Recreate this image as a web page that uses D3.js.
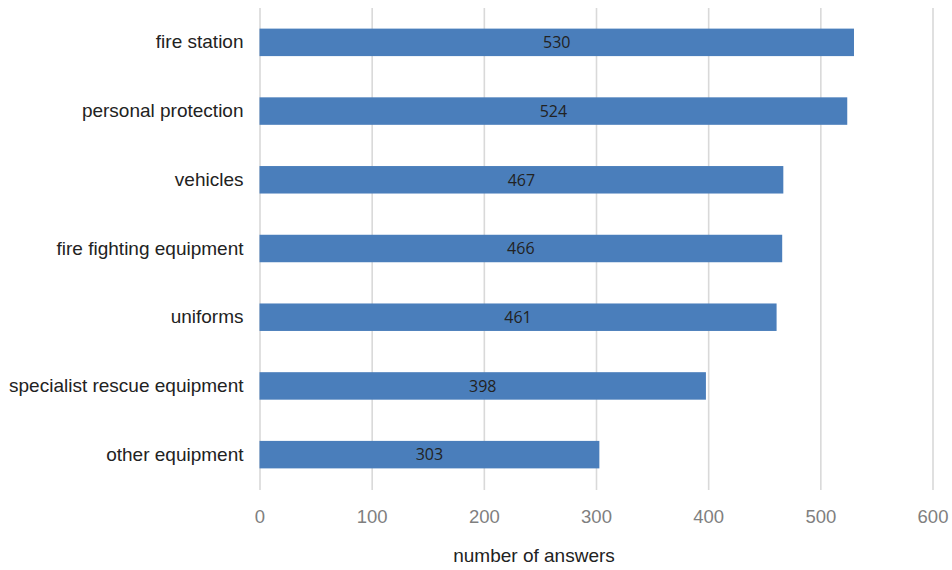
<!DOCTYPE html>
<html>
<head>
<meta charset="utf-8">
<script src="https://cdn.jsdelivr.net/npm/d3@7"></script>
<style>
  html, body { margin: 0; padding: 0; background: #fff; }
  svg { display: block; }
</style>
</head>
<body>
<svg id="chart" width="952" height="570"></svg>
<script>
// Equipment categories and how many answers named each one
const categories = [
  "fire station",
  "personal protection",
  "vehicles",
  "fire fighting equipment",
  "uniforms",
  "specialist rescue equipment",
  "other equipment"
];
const answers = [530, 524, 467, 466, 461, 398, 303];
const xTicks = [0, 100, 200, 300, 400, 500, 600];
const xTitle = "number of answers";

const rows = categories.map((c, i) => ({ category: c, value: answers[i] }));

const svg = d3.select("#chart");
const margin = { left: 259.5, right: 20, top: 8, bottom: 81 };
const width = 952, height = 570;

const x = d3.scaleLinear()
  .domain([0, 600])
  .range([margin.left, 932.5]);

const y = d3.scaleBand()
  .domain(categories)
  .range([margin.top, height - margin.bottom])
  .paddingInner(0.6)
  .paddingOuter(0.3);

// vertical gridlines
const grid = d3.axisBottom(x)
  .tickValues(xTicks)
  .tickSize(-(height - margin.bottom - margin.top + 1))
  .tickFormat("");
svg.append("g")
  .attr("transform", `translate(0,${height - margin.bottom + 1})`)
  .call(grid)
  .call(g => g.select(".domain").remove())
  .call(g => g.selectAll("line").attr("stroke", "#d9d9d9").attr("stroke-width", 1.6));

// bottom tick labels
const xAxis = d3.axisBottom(x).tickValues(xTicks).tickSize(0).tickPadding(0);
svg.append("g")
  .attr("transform", `translate(0,523)`)
  .call(xAxis)
  .call(g => g.select(".domain").remove())
  .call(g => g.selectAll("text")
    .attr("fill", "#7f7f7f")
    .attr("font-family", "'Liberation Sans', Arial, sans-serif")
    .attr("font-size", 18.5)
    .attr("y", 0)
    .attr("dy", "0"));

// category labels
const yAxis = d3.axisLeft(y).tickSize(0).tickPadding(16);
svg.append("g")
  .attr("transform", `translate(${margin.left},0)`)
  .call(yAxis)
  .call(g => g.select(".domain").remove())
  .call(g => g.selectAll("text")
    .attr("fill", "#222")
    .attr("font-family", "'Liberation Sans', Arial, sans-serif")
    .attr("font-size", 19));

// bars
svg.append("g")
  .selectAll("rect")
  .data(rows)
  .join("rect")
  .attr("x", x(0))
  .attr("y", d => y(d.category))
  .attr("width", d => x(d.value) - x(0))
  .attr("height", y.bandwidth())
  .attr("fill", "#4a7ebb");

// value labels centred in each bar
svg.append("g")
  .selectAll("text")
  .data(rows)
  .join("text")
  .attr("x", d => (x(0) + x(d.value)) / 2)
  .attr("y", d => y(d.category) + y.bandwidth() / 2)
  .attr("dy", "0.36em")
  .attr("text-anchor", "middle")
  .attr("fill", "#222")
  .attr("font-family", "'Open Sans', sans-serif")
  .attr("font-size", 16)
  .text(d => d.value);

// axis title
svg.append("text")
  .attr("x", 534)
  .attr("y", 562)
  .attr("text-anchor", "middle")
  .attr("fill", "#222")
  .attr("font-family", "'Liberation Sans', Arial, sans-serif")
  .attr("font-size", 19)
  .text(xTitle);
</script>
</body>
</html>
